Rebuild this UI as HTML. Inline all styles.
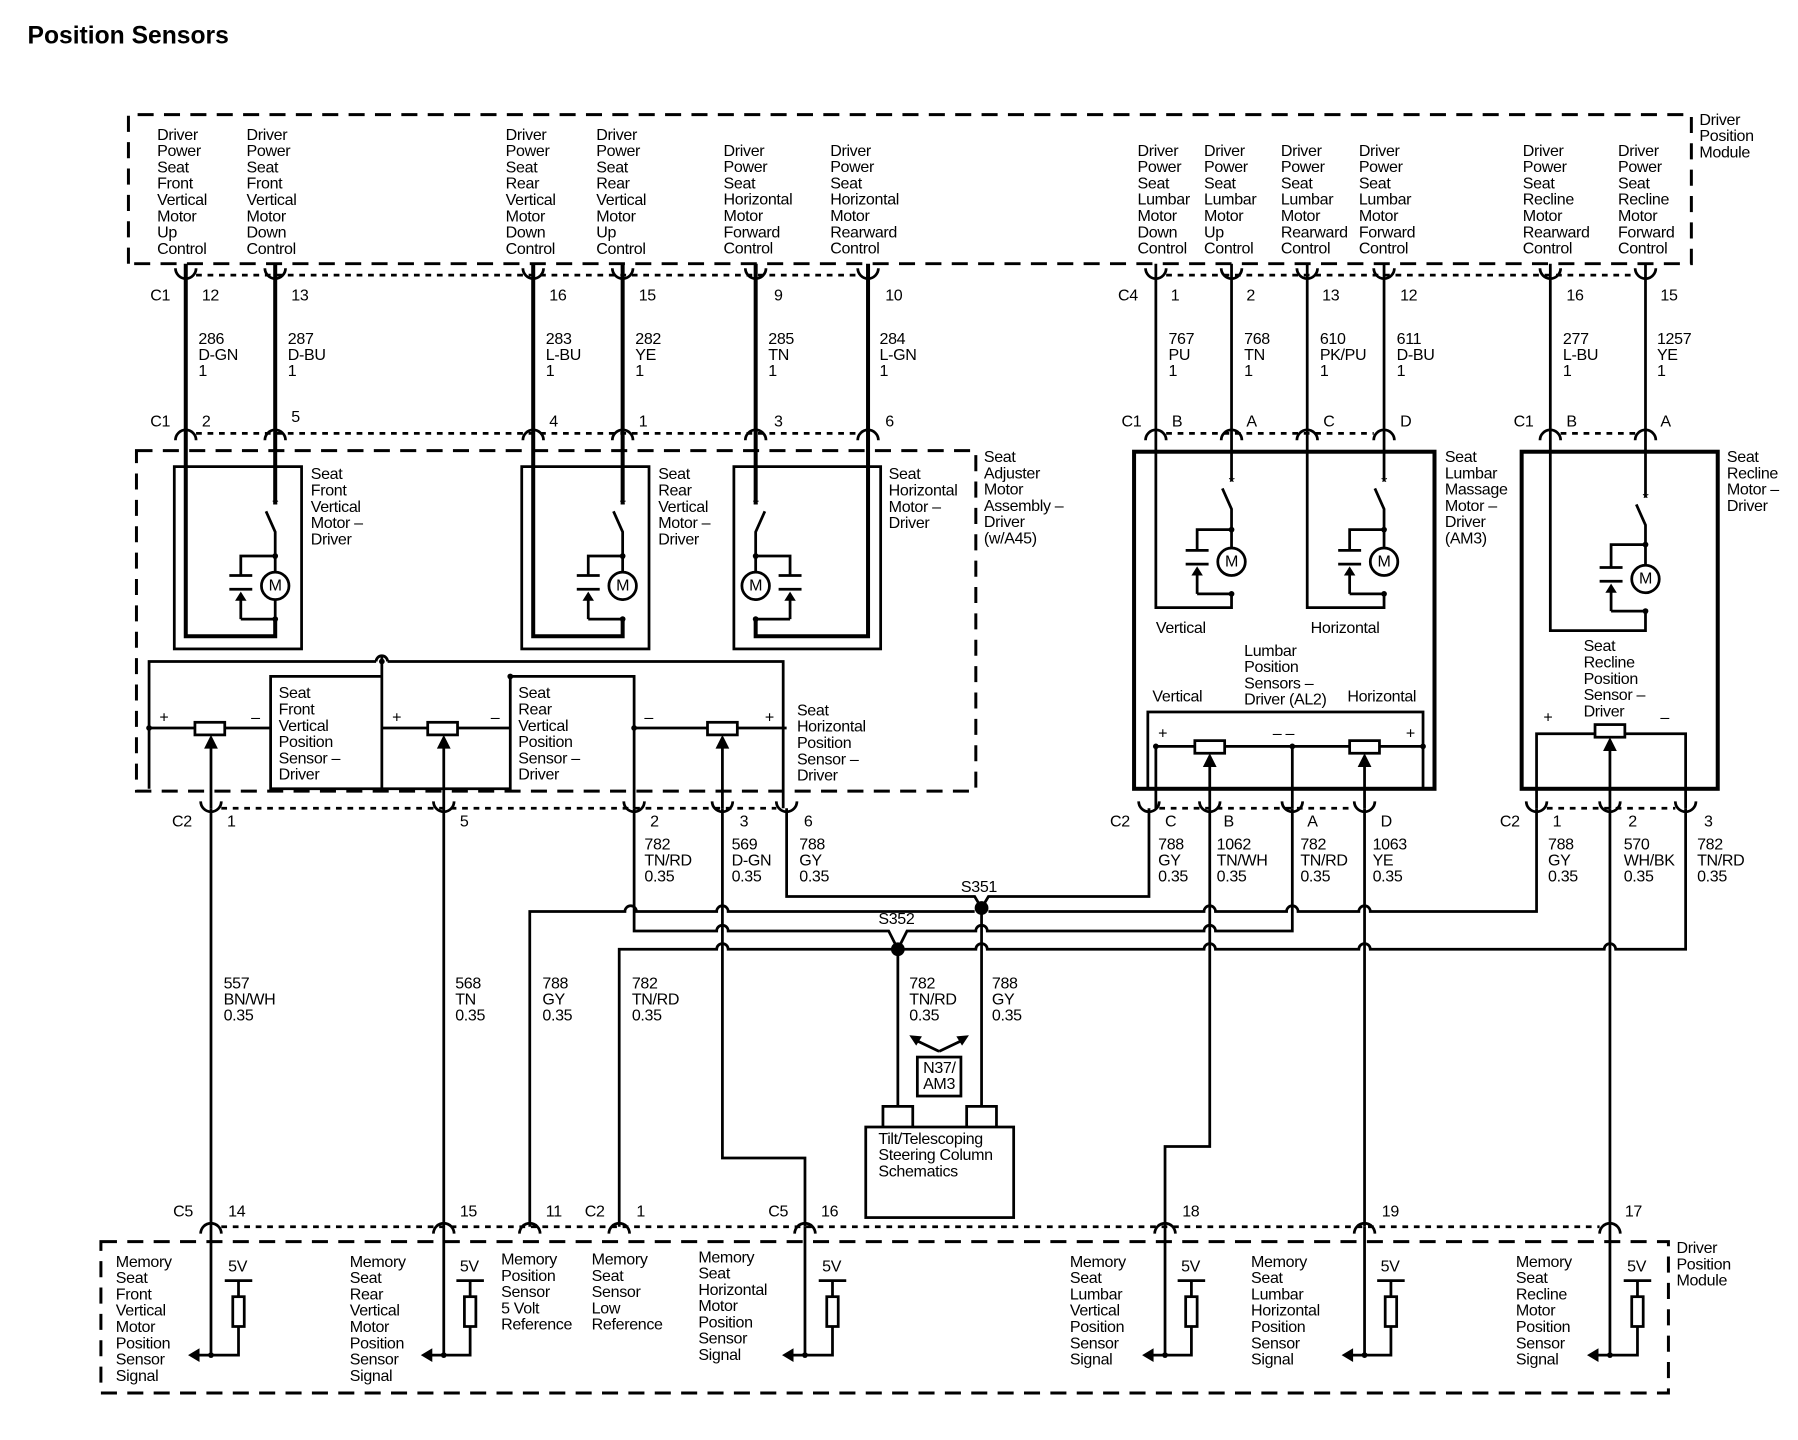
<!DOCTYPE html>
<html><head><meta charset="utf-8"><style>
html,body{margin:0;padding:0;background:#fff;}
svg{display:block;}
text{font-family:"Liberation Sans",Arial,sans-serif;font-size:14px;fill:#000;letter-spacing:-0.3px;}
.t{font-size:21.5px;font-weight:bold;letter-spacing:0;}
.w{stroke:#000;stroke-width:2.4;fill:none;}
.k{stroke:#000;stroke-width:3.5;fill:none;}
.d{stroke:#000;stroke-width:2.6;fill:none;stroke-dasharray:14 9;}
.o{stroke:#000;stroke-width:2.4;fill:none;stroke-dasharray:5 5;}
.b{stroke:#000;stroke-width:2.4;fill:none;}
</style></head><body>
<svg width="1798" height="1440" viewBox="0 0 1568 1256" preserveAspectRatio="none" xmlns="http://www.w3.org/2000/svg">
<text class="t" x="24" y="38">Position Sensors</text>

<path class="d" d="M112 230 V100 H1475 V230 H112"/>
<text x="1482" y="109"><tspan x="1482">Driver</tspan><tspan x="1482" dy="14.2">Position</tspan><tspan x="1482" dy="14.2">Module</tspan></text>
<g>
<text x="137" y="122"><tspan x="137">Driver</tspan><tspan x="137" dy="14.2">Power</tspan><tspan x="137" dy="14.2">Seat</tspan><tspan x="137" dy="14.2">Front</tspan><tspan x="137" dy="14.2">Vertical</tspan><tspan x="137" dy="14.2">Motor</tspan><tspan x="137" dy="14.2">Up</tspan><tspan x="137" dy="14.2">Control</tspan></text>
<text x="215" y="122"><tspan x="215">Driver</tspan><tspan x="215" dy="14.2">Power</tspan><tspan x="215" dy="14.2">Seat</tspan><tspan x="215" dy="14.2">Front</tspan><tspan x="215" dy="14.2">Vertical</tspan><tspan x="215" dy="14.2">Motor</tspan><tspan x="215" dy="14.2">Down</tspan><tspan x="215" dy="14.2">Control</tspan></text>
<text x="441" y="122"><tspan x="441">Driver</tspan><tspan x="441" dy="14.2">Power</tspan><tspan x="441" dy="14.2">Seat</tspan><tspan x="441" dy="14.2">Rear</tspan><tspan x="441" dy="14.2">Vertical</tspan><tspan x="441" dy="14.2">Motor</tspan><tspan x="441" dy="14.2">Down</tspan><tspan x="441" dy="14.2">Control</tspan></text>
<text x="520" y="122"><tspan x="520">Driver</tspan><tspan x="520" dy="14.2">Power</tspan><tspan x="520" dy="14.2">Seat</tspan><tspan x="520" dy="14.2">Rear</tspan><tspan x="520" dy="14.2">Vertical</tspan><tspan x="520" dy="14.2">Motor</tspan><tspan x="520" dy="14.2">Up</tspan><tspan x="520" dy="14.2">Control</tspan></text>
<text x="631" y="136"><tspan x="631">Driver</tspan><tspan x="631" dy="14.2">Power</tspan><tspan x="631" dy="14.2">Seat</tspan><tspan x="631" dy="14.2">Horizontal</tspan><tspan x="631" dy="14.2">Motor</tspan><tspan x="631" dy="14.2">Forward</tspan><tspan x="631" dy="14.2">Control</tspan></text>
<text x="724" y="136"><tspan x="724">Driver</tspan><tspan x="724" dy="14.2">Power</tspan><tspan x="724" dy="14.2">Seat</tspan><tspan x="724" dy="14.2">Horizontal</tspan><tspan x="724" dy="14.2">Motor</tspan><tspan x="724" dy="14.2">Rearward</tspan><tspan x="724" dy="14.2">Control</tspan></text>
<text x="992" y="136"><tspan x="992">Driver</tspan><tspan x="992" dy="14.2">Power</tspan><tspan x="992" dy="14.2">Seat</tspan><tspan x="992" dy="14.2">Lumbar</tspan><tspan x="992" dy="14.2">Motor</tspan><tspan x="992" dy="14.2">Down</tspan><tspan x="992" dy="14.2">Control</tspan></text>
<text x="1050" y="136"><tspan x="1050">Driver</tspan><tspan x="1050" dy="14.2">Power</tspan><tspan x="1050" dy="14.2">Seat</tspan><tspan x="1050" dy="14.2">Lumbar</tspan><tspan x="1050" dy="14.2">Motor</tspan><tspan x="1050" dy="14.2">Up</tspan><tspan x="1050" dy="14.2">Control</tspan></text>
<text x="1117" y="136"><tspan x="1117">Driver</tspan><tspan x="1117" dy="14.2">Power</tspan><tspan x="1117" dy="14.2">Seat</tspan><tspan x="1117" dy="14.2">Lumbar</tspan><tspan x="1117" dy="14.2">Motor</tspan><tspan x="1117" dy="14.2">Rearward</tspan><tspan x="1117" dy="14.2">Control</tspan></text>
<text x="1185" y="136"><tspan x="1185">Driver</tspan><tspan x="1185" dy="14.2">Power</tspan><tspan x="1185" dy="14.2">Seat</tspan><tspan x="1185" dy="14.2">Lumbar</tspan><tspan x="1185" dy="14.2">Motor</tspan><tspan x="1185" dy="14.2">Forward</tspan><tspan x="1185" dy="14.2">Control</tspan></text>
<text x="1328" y="136"><tspan x="1328">Driver</tspan><tspan x="1328" dy="14.2">Power</tspan><tspan x="1328" dy="14.2">Seat</tspan><tspan x="1328" dy="14.2">Recline</tspan><tspan x="1328" dy="14.2">Motor</tspan><tspan x="1328" dy="14.2">Rearward</tspan><tspan x="1328" dy="14.2">Control</tspan></text>
<text x="1411" y="136"><tspan x="1411">Driver</tspan><tspan x="1411" dy="14.2">Power</tspan><tspan x="1411" dy="14.2">Seat</tspan><tspan x="1411" dy="14.2">Recline</tspan><tspan x="1411" dy="14.2">Motor</tspan><tspan x="1411" dy="14.2">Forward</tspan><tspan x="1411" dy="14.2">Control</tspan></text>
</g>

<path class="o" d="M171 240 H748 M1017 240 H1426"/>
<path class="o" d="M171 378 H748 M1017 378 H1198 M1361 378 H1426"/>
<g class="k">
<path d="M162 230 V555 H240 V540"/><path d="M240 230 V440"/>
<path d="M465 230 V555 H543 V540"/><path d="M543 230 V440"/>
<path d="M659 230 V440"/><path d="M757 230 V555 H659 V540"/>
</g>
<g class="w">
<path d="M1008 230 V530 H1074 V518"/><path d="M1074 230 V420"/>
<path d="M1140 230 V530 H1207 V518"/><path d="M1207 230 V420"/>
<path d="M1352 230 V550 H1435 V533"/><path d="M1435 230 V434"/>
</g>
<g class="b" stroke-width="2.4">
<path d="M153 234 A9 9 0 0 0 171 234 M231 234 A9 9 0 0 0 249 234 M456 234 A9 9 0 0 0 474 234 M534 234 A9 9 0 0 0 552 234 M650 234 A9 9 0 0 0 668 234 M748 234 A9 9 0 0 0 766 234"/>
<path d="M999 234 A9 9 0 0 0 1017 234 M1065 234 A9 9 0 0 0 1083 234 M1131 234 A9 9 0 0 0 1149 234 M1198 234 A9 9 0 0 0 1216 234 M1343 234 A9 9 0 0 0 1361 234 M1426 234 A9 9 0 0 0 1444 234"/>
<path d="M153 384 A9 9 0 0 1 171 384 M231 384 A9 9 0 0 1 249 384 M456 384 A9 9 0 0 1 474 384 M534 384 A9 9 0 0 1 552 384 M650 384 A9 9 0 0 1 668 384 M748 384 A9 9 0 0 1 766 384"/>
<path d="M999 384 A9 9 0 0 1 1017 384 M1065 384 A9 9 0 0 1 1083 384 M1131 384 A9 9 0 0 1 1149 384 M1198 384 A9 9 0 0 1 1216 384 M1343 384 A9 9 0 0 1 1361 384 M1426 384 A9 9 0 0 1 1444 384"/>
</g>
<text x="131" y="262">C1</text><text x="176" y="262">12</text><text x="254" y="262">13</text><text x="479" y="262">16</text><text x="557" y="262">15</text><text x="675" y="262">9</text><text x="772" y="262">10</text>
<text x="975" y="262">C4</text><text x="1021" y="262">1</text><text x="1087" y="262">2</text><text x="1153" y="262">13</text><text x="1221" y="262">12</text><text x="1366" y="262">16</text><text x="1448" y="262">15</text>
<text x="131" y="372">C1</text><text x="176" y="372">2</text><text x="254" y="368">5</text><text x="479" y="372">4</text><text x="557" y="372">1</text><text x="675" y="372">3</text><text x="772" y="372">6</text>
<text x="978" y="372">C1</text><text x="1022" y="372">B</text><text x="1087" y="372">A</text><text x="1154" y="372">C</text><text x="1221" y="372">D</text><text x="1320" y="372">C1</text><text x="1366" y="372">B</text><text x="1448" y="372">A</text>
<g>
<text x="173" y="300"><tspan x="173">286</tspan><tspan x="173" dy="14">D-GN</tspan><tspan x="173" dy="14">1</tspan></text>
<text x="251" y="300"><tspan x="251">287</tspan><tspan x="251" dy="14">D-BU</tspan><tspan x="251" dy="14">1</tspan></text>
<text x="476" y="300"><tspan x="476">283</tspan><tspan x="476" dy="14">L-BU</tspan><tspan x="476" dy="14">1</tspan></text>
<text x="554" y="300"><tspan x="554">282</tspan><tspan x="554" dy="14">YE</tspan><tspan x="554" dy="14">1</tspan></text>
<text x="670" y="300"><tspan x="670">285</tspan><tspan x="670" dy="14">TN</tspan><tspan x="670" dy="14">1</tspan></text>
<text x="767" y="300"><tspan x="767">284</tspan><tspan x="767" dy="14">L-GN</tspan><tspan x="767" dy="14">1</tspan></text>
<text x="1019" y="300"><tspan x="1019">767</tspan><tspan x="1019" dy="14">PU</tspan><tspan x="1019" dy="14">1</tspan></text>
<text x="1085" y="300"><tspan x="1085">768</tspan><tspan x="1085" dy="14">TN</tspan><tspan x="1085" dy="14">1</tspan></text>
<text x="1151" y="300"><tspan x="1151">610</tspan><tspan x="1151" dy="14">PK/PU</tspan><tspan x="1151" dy="14">1</tspan></text>
<text x="1218" y="300"><tspan x="1218">611</tspan><tspan x="1218" dy="14">D-BU</tspan><tspan x="1218" dy="14">1</tspan></text>
<text x="1363" y="300"><tspan x="1363">277</tspan><tspan x="1363" dy="14">L-BU</tspan><tspan x="1363" dy="14">1</tspan></text>
<text x="1445" y="300"><tspan x="1445">1257</tspan><tspan x="1445" dy="14">YE</tspan><tspan x="1445" dy="14">1</tspan></text>
</g>

<path class="d" d="M119 393 H851 V690 H119 Z"/>
<text x="858" y="403"><tspan x="858">Seat</tspan><tspan x="858" dy="14.2">Adjuster</tspan><tspan x="858" dy="14.2">Motor</tspan><tspan x="858" dy="14.2">Assembly –</tspan><tspan x="858" dy="14.2">Driver</tspan><tspan x="858" dy="14.2">(w/A45)</tspan></text>
<rect class="b" x="152" y="407" width="111" height="159"/>
<rect class="b" x="455" y="407" width="111" height="159"/>
<rect class="b" x="640" y="407" width="128" height="159"/>
<text x="271" y="418"><tspan x="271">Seat</tspan><tspan x="271" dy="14.2">Front</tspan><tspan x="271" dy="14.2">Vertical</tspan><tspan x="271" dy="14.2">Motor –</tspan><tspan x="271" dy="14.2">Driver</tspan></text>
<text x="574" y="418"><tspan x="574">Seat</tspan><tspan x="574" dy="14.2">Rear</tspan><tspan x="574" dy="14.2">Vertical</tspan><tspan x="574" dy="14.2">Motor –</tspan><tspan x="574" dy="14.2">Driver</tspan></text>
<text x="775" y="418"><tspan x="775">Seat</tspan><tspan x="775" dy="14.2">Horizontal</tspan><tspan x="775" dy="14.2">Motor –</tspan><tspan x="775" dy="14.2">Driver</tspan></text>
<g class="w">
<path d="M232 446 L240 464 V524 M240 498 V540 M240 485 H210 V502 M200 502 H220 M200 514 H220 M210 540 V518 M210 540 H240"/>
<path d="M535 446 L543 464 V524 M543 485 H513 V502 M503 502 H523 M503 514 H523 M513 540 V518 M513 540 H543"/>
<path d="M667 446 L659 464 V524 M659 485 H689 V502 M679 502 H699 M679 514 H699 M689 540 V518 M689 540 H659"/>
<path d="M1066 426 L1074 444 V478 M1074 462 H1044 V480 M1034 480 H1054 M1034 492 H1054 M1044 518 V496 M1044 518 H1074"/>
<path d="M1199 426 L1207 444 V478 M1207 462 H1177 V480 M1167 480 H1187 M1167 492 H1187 M1177 518 V496 M1177 518 H1207"/>
<path d="M1427 440 L1435 458 V493 M1435 475 H1405 V495 M1395 495 H1415 M1395 507 H1415 M1405 533 V511 M1405 533 H1435"/>
</g>
<g fill="#000">
<path d="M210 516 l-5 8 h10 z M513 516 l-5 8 h10 z M689 516 l-5 8 h10 z M1044 494 l-5 8 h10 z M1177 494 l-5 8 h10 z M1405 509 l-5 8 h10 z"/>
<circle cx="240" cy="485" r="2.5"/><circle cx="240" cy="540" r="2.5"/><circle cx="543" cy="485" r="2.5"/><circle cx="543" cy="540" r="2.5"/><circle cx="659" cy="485" r="2.5"/><circle cx="659" cy="540" r="2.5"/>
<circle cx="1074" cy="462" r="2.5"/><circle cx="1074" cy="518" r="2.5"/><circle cx="1207" cy="462" r="2.5"/><circle cx="1207" cy="518" r="2.5"/><circle cx="1435" cy="475" r="2.5"/><circle cx="1435" cy="533" r="2.5"/>
</g>
<g fill="#fff" stroke="#000" stroke-width="2.4">
<circle cx="240" cy="511" r="12"/><circle cx="543" cy="511" r="12"/><circle cx="659" cy="511" r="12"/>
<circle cx="1074" cy="490" r="12"/><circle cx="1207" cy="490" r="12"/><circle cx="1435" cy="505" r="12"/>
</g>
<g font-size="12" text-anchor="middle">
<text x="240" y="515">M</text><text x="543" y="515">M</text><text x="659" y="515">M</text><text x="1074" y="494">M</text><text x="1207" y="494">M</text><text x="1435" y="509">M</text>
</g>
<g font-size="13" text-anchor="middle">
<text x="240" y="445">*</text><text x="543" y="445">*</text><text x="659" y="445">*</text><text x="1074" y="425">*</text><text x="1207" y="425">*</text><text x="1435" y="439">*</text>
</g>

<g class="w">
<path d="M130 688 V577 H328 M338 577 H683 V705"/>
<path d="M328 577 A5 5 0 0 1 338 577" />
<path d="M333 572 V688 H236 V590 H333"/>
<path d="M445 590 H553 V705 M445 590 V688 H333"/>
<path d="M130 635 H170 M196 635 H236 M333 635 H373 M399 635 H445 M553 635 H617 M643 635 H686"/>
<path d="M184 705 V650 M387 705 V650 M630 705 V650"/>
</g>
<g fill="#fff" stroke="#000" stroke-width="2.4"><rect x="170" y="630" width="26" height="11"/><rect x="373" y="630" width="26" height="11"/><rect x="617" y="630" width="26" height="11"/></g>
<g fill="#000"><path d="M184 641 l-6 12 h12z M387 641 l-6 12 h12z M630 641 l-6 12 h12z"/><circle cx="333" cy="577" r="2.5"/><circle cx="445" cy="590" r="2.5"/><circle cx="553" cy="635" r="2.5"/><circle cx="130" cy="635" r="2.5"/></g>
<g font-size="12"><text x="139" y="630">+</text><text x="219" y="630">–</text><text x="342" y="630">+</text><text x="428" y="630">–</text><text x="562" y="630">–</text><text x="667" y="630">+</text></g>
<text x="243" y="609"><tspan x="243">Seat</tspan><tspan x="243" dy="14.2">Front</tspan><tspan x="243" dy="14.2">Vertical</tspan><tspan x="243" dy="14.2">Position</tspan><tspan x="243" dy="14.2">Sensor –</tspan><tspan x="243" dy="14.2">Driver</tspan></text>
<text x="452" y="609"><tspan x="452">Seat</tspan><tspan x="452" dy="14.2">Rear</tspan><tspan x="452" dy="14.2">Vertical</tspan><tspan x="452" dy="14.2">Position</tspan><tspan x="452" dy="14.2">Sensor –</tspan><tspan x="452" dy="14.2">Driver</tspan></text>
<text x="695" y="624"><tspan x="695">Seat</tspan><tspan x="695" dy="14.2">Horizontal</tspan><tspan x="695" dy="14.2">Position</tspan><tspan x="695" dy="14.2">Sensor –</tspan><tspan x="695" dy="14.2">Driver</tspan></text>

<rect class="k" x="989" y="394" width="262" height="294" stroke-width="3"/>
<text x="1260" y="403"><tspan x="1260">Seat</tspan><tspan x="1260" dy="14.2">Lumbar</tspan><tspan x="1260" dy="14.2">Massage</tspan><tspan x="1260" dy="14.2">Motor –</tspan><tspan x="1260" dy="14.2">Driver</tspan><tspan x="1260" dy="14.2">(AM3)</tspan></text>
<text x="1008" y="552">Vertical</text><text x="1143" y="552">Horizontal</text>
<text x="1085" y="572"><tspan x="1085">Lumbar</tspan><tspan x="1085" dy="14.2">Position</tspan><tspan x="1085" dy="14.2">Sensors –</tspan><tspan x="1085" dy="14.2">Driver (AL2)</tspan></text>
<text x="1005" y="612">Vertical</text><text x="1175" y="612">Horizontal</text>
<rect class="b" x="1001" y="621" width="240" height="67"/>
<g class="w"><path d="M1008 651 H1042 M1068 651 H1177 M1203 651 H1241 M1127 651 V705 M1008 651 V705 M1055 705 V664 M1190 705 V664"/></g>
<g fill="#fff" stroke="#000" stroke-width="2.4"><rect x="1042" y="646" width="26" height="11"/><rect x="1177" y="646" width="26" height="11"/></g>
<g fill="#000"><path d="M1055 657 l-6 12 h12z M1190 657 l-6 12 h12z"/><circle cx="1127" cy="651" r="2.5"/><circle cx="1008" cy="651" r="2.5"/><circle cx="1241" cy="651" r="2.5"/></g>
<g font-size="12"><text x="1010" y="644">+</text><text x="1110" y="644">– –</text><text x="1226" y="644">+</text></g>

<rect class="k" x="1327" y="394" width="171" height="294" stroke-width="3"/>
<text x="1506" y="403"><tspan x="1506">Seat</tspan><tspan x="1506" dy="14.2">Recline</tspan><tspan x="1506" dy="14.2">Motor –</tspan><tspan x="1506" dy="14.2">Driver</tspan></text>
<text x="1381" y="568"><tspan x="1381">Seat</tspan><tspan x="1381" dy="14.2">Recline</tspan><tspan x="1381" dy="14.2">Position</tspan><tspan x="1381" dy="14.2">Sensor –</tspan><tspan x="1381" dy="14.2">Driver</tspan></text>
<g class="w"><path d="M1340 705 V640 H1391 M1417 640 H1470 V705 M1404 705 V650"/></g>
<rect x="1391" y="632" width="26" height="11" fill="#fff" stroke="#000" stroke-width="2.4"/>
<path d="M1404 643 l-6 12 h12z" fill="#000"/>
<g font-size="12"><text x="1346" y="630">+</text><text x="1448" y="630">–</text></g>

<path class="o" d="M193 705 H677 M1011 705 H1181 M1349 705 H1461"/>
<g class="b">
<path d="M175 699 A9 9 0 0 0 193 699 M378 699 A9 9 0 0 0 396 699 M544 699 A9 9 0 0 0 562 699 M621 699 A9 9 0 0 0 639 699 M677 699 A9 9 0 0 0 695 699"/>
<path d="M993 699 A9 9 0 0 0 1011 699 M1046 699 A9 9 0 0 0 1064 699 M1118 699 A9 9 0 0 0 1136 699 M1181 699 A9 9 0 0 0 1199 699 M1331 699 A9 9 0 0 0 1349 699 M1395 699 A9 9 0 0 0 1413 699 M1461 699 A9 9 0 0 0 1479 699"/>
</g>
<text x="150" y="721">C2</text><text x="198" y="721">1</text><text x="401" y="721">5</text><text x="567" y="721">2</text><text x="645" y="721">3</text><text x="701" y="721">6</text>
<text x="968" y="721">C2</text><text x="1016" y="721">C</text><text x="1067" y="721">B</text><text x="1140" y="721">A</text><text x="1204" y="721">D</text>
<text x="1308" y="721">C2</text><text x="1354" y="721">1</text><text x="1420" y="721">2</text><text x="1486" y="721">3</text>
<g>
<text x="562" y="741"><tspan x="562">782</tspan><tspan x="562" dy="14">TN/RD</tspan><tspan x="562" dy="14">0.35</tspan></text>
<text x="638" y="741"><tspan x="638">569</tspan><tspan x="638" dy="14">D-GN</tspan><tspan x="638" dy="14">0.35</tspan></text>
<text x="697" y="741"><tspan x="697">788</tspan><tspan x="697" dy="14">GY</tspan><tspan x="697" dy="14">0.35</tspan></text>
<text x="1010" y="741"><tspan x="1010">788</tspan><tspan x="1010" dy="14">GY</tspan><tspan x="1010" dy="14">0.35</tspan></text>
<text x="1061" y="741"><tspan x="1061">1062</tspan><tspan x="1061" dy="14">TN/WH</tspan><tspan x="1061" dy="14">0.35</tspan></text>
<text x="1134" y="741"><tspan x="1134">782</tspan><tspan x="1134" dy="14">TN/RD</tspan><tspan x="1134" dy="14">0.35</tspan></text>
<text x="1197" y="741"><tspan x="1197">1063</tspan><tspan x="1197" dy="14">YE</tspan><tspan x="1197" dy="14">0.35</tspan></text>
<text x="1350" y="741"><tspan x="1350">788</tspan><tspan x="1350" dy="14">GY</tspan><tspan x="1350" dy="14">0.35</tspan></text>
<text x="1416" y="741"><tspan x="1416">570</tspan><tspan x="1416" dy="14">WH/BK</tspan><tspan x="1416" dy="14">0.35</tspan></text>
<text x="1480" y="741"><tspan x="1480">782</tspan><tspan x="1480" dy="14">TN/RD</tspan><tspan x="1480" dy="14">0.35</tspan></text>
<text x="195" y="862"><tspan x="195">557</tspan><tspan x="195" dy="14">BN/WH</tspan><tspan x="195" dy="14">0.35</tspan></text>
<text x="397" y="862"><tspan x="397">568</tspan><tspan x="397" dy="14">TN</tspan><tspan x="397" dy="14">0.35</tspan></text>
<text x="473" y="862"><tspan x="473">788</tspan><tspan x="473" dy="14">GY</tspan><tspan x="473" dy="14">0.35</tspan></text>
<text x="551" y="862"><tspan x="551">782</tspan><tspan x="551" dy="14">TN/RD</tspan><tspan x="551" dy="14">0.35</tspan></text>
<text x="793" y="862"><tspan x="793">782</tspan><tspan x="793" dy="14">TN/RD</tspan><tspan x="793" dy="14">0.35</tspan></text>
<text x="865" y="862"><tspan x="865">788</tspan><tspan x="865" dy="14">GY</tspan><tspan x="865" dy="14">0.35</tspan></text>
</g>
<text x="838" y="778">S351</text><text x="766" y="806">S352</text>

<g class="w">
<path d="M184 705 V1182"/><path d="M387 705 V1182"/>
<path d="M702 1070 V1182"/><path d="M1016 1070 V1182"/><path d="M1190 1070 V1182"/><path d="M1404 705 V1182"/>
<path d="M686 705 V782 H850 L856 792 L862 782 H1002 V705"/>
<path d="M462 1070 V795 H545 a5 5 0 0 1 10 0 H625 a5 5 0 0 1 10 0 H850 M862 795 H1050 a5 5 0 0 1 10 0 H1122 a5 5 0 0 1 10 0 H1185 a5 5 0 0 1 10 0 H1340 V705"/>
<path d="M553 705 V812 H625 a5 5 0 0 1 10 0 H775 L783 828 L791 812 H851 a5 5 0 0 1 10 0 H1050 a5 5 0 0 1 10 0 H1127 V705"/>
<path d="M540 1070 V828 H625 a5 5 0 0 1 10 0 H783 M783 828 H851 a5 5 0 0 1 10 0 H1050 a5 5 0 0 1 10 0 H1185 a5 5 0 0 1 10 0 H1399 a5 5 0 0 1 10 0 H1470 V705"/>
<path d="M630 705 V1010 H702 V1070"/>
<path d="M856 792 V965"/><path d="M783 828 V965"/>
<path d="M1055 705 V1000 H1016 V1070"/><path d="M1190 705 V1070"/>
<path d="M770 983 V965 H796 V983 M843 983 V965 H869 V983"/>
</g>
<g fill="#000"><circle cx="856" cy="792" r="6"/><circle cx="783" cy="828" r="6"/></g>
<rect class="b" x="755" y="983" width="129" height="79"/>
<text x="766" y="998"><tspan x="766">Tilt/Telescoping</tspan><tspan x="766" dy="14">Steering Column</tspan><tspan x="766" dy="14">Schematics</tspan></text>
<rect class="b" x="800" y="922" width="38" height="34"/>
<text x="805" y="936" font-size="13"><tspan x="805">N37/</tspan><tspan x="805" dy="14">AM3</tspan></text>
<g class="w"><path d="M819 917 L798 907 M819 917 L840 907"/></g>
<g fill="#000"><path d="M793 903 l11 1 -5 8z M845 903 l-11 1 5 8z"/></g>

<path class="o" d="M193 1070 H1395"/>
<g class="b">
<path d="M175 1076 A9 9 0 0 1 193 1076 M378 1076 A9 9 0 0 1 396 1076 M453 1076 A9 9 0 0 1 471 1076 M531 1076 A9 9 0 0 1 549 1076 M693 1076 A9 9 0 0 1 711 1076 M1007 1076 A9 9 0 0 1 1025 1076 M1181 1076 A9 9 0 0 1 1199 1076 M1395 1076 A9 9 0 0 1 1413 1076"/>
</g>
<text x="151" y="1061">C5</text><text x="199" y="1061">14</text><text x="401" y="1061">15</text><text x="476" y="1061">11</text><text x="510" y="1061">C2</text><text x="555" y="1061">1</text><text x="670" y="1061">C5</text><text x="716" y="1061">16</text><text x="1031" y="1061">18</text><text x="1205" y="1061">19</text><text x="1417" y="1061">17</text>

<path class="d" d="M88 1083 H1455 V1215 H88 Z"/>
<text x="1462" y="1093"><tspan x="1462">Driver</tspan><tspan x="1462" dy="14.2">Position</tspan><tspan x="1462" dy="14.2">Module</tspan></text>
<g>
<text x="101" y="1105"><tspan x="101">Memory</tspan><tspan x="101" dy="14.2">Seat</tspan><tspan x="101" dy="14.2">Front</tspan><tspan x="101" dy="14.2">Vertical</tspan><tspan x="101" dy="14.2">Motor</tspan><tspan x="101" dy="14.2">Position</tspan><tspan x="101" dy="14.2">Sensor</tspan><tspan x="101" dy="14.2">Signal</tspan></text>
<text x="305" y="1105"><tspan x="305">Memory</tspan><tspan x="305" dy="14.2">Seat</tspan><tspan x="305" dy="14.2">Rear</tspan><tspan x="305" dy="14.2">Vertical</tspan><tspan x="305" dy="14.2">Motor</tspan><tspan x="305" dy="14.2">Position</tspan><tspan x="305" dy="14.2">Sensor</tspan><tspan x="305" dy="14.2">Signal</tspan></text>
<text x="437" y="1103"><tspan x="437">Memory</tspan><tspan x="437" dy="14.2">Position</tspan><tspan x="437" dy="14.2">Sensor</tspan><tspan x="437" dy="14.2">5 Volt</tspan><tspan x="437" dy="14.2">Reference</tspan></text>
<text x="516" y="1103"><tspan x="516">Memory</tspan><tspan x="516" dy="14.2">Seat</tspan><tspan x="516" dy="14.2">Sensor</tspan><tspan x="516" dy="14.2">Low</tspan><tspan x="516" dy="14.2">Reference</tspan></text>
<text x="609" y="1101"><tspan x="609">Memory</tspan><tspan x="609" dy="14.2">Seat</tspan><tspan x="609" dy="14.2">Horizontal</tspan><tspan x="609" dy="14.2">Motor</tspan><tspan x="609" dy="14.2">Position</tspan><tspan x="609" dy="14.2">Sensor</tspan><tspan x="609" dy="14.2">Signal</tspan></text>
<text x="933" y="1105"><tspan x="933">Memory</tspan><tspan x="933" dy="14.2">Seat</tspan><tspan x="933" dy="14.2">Lumbar</tspan><tspan x="933" dy="14.2">Vertical</tspan><tspan x="933" dy="14.2">Position</tspan><tspan x="933" dy="14.2">Sensor</tspan><tspan x="933" dy="14.2">Signal</tspan></text>
<text x="1091" y="1105"><tspan x="1091">Memory</tspan><tspan x="1091" dy="14.2">Seat</tspan><tspan x="1091" dy="14.2">Lumbar</tspan><tspan x="1091" dy="14.2">Horizontal</tspan><tspan x="1091" dy="14.2">Position</tspan><tspan x="1091" dy="14.2">Sensor</tspan><tspan x="1091" dy="14.2">Signal</tspan></text>
<text x="1322" y="1105"><tspan x="1322">Memory</tspan><tspan x="1322" dy="14.2">Seat</tspan><tspan x="1322" dy="14.2">Recline</tspan><tspan x="1322" dy="14.2">Motor</tspan><tspan x="1322" dy="14.2">Position</tspan><tspan x="1322" dy="14.2">Sensor</tspan><tspan x="1322" dy="14.2">Signal</tspan></text>
</g>
<g class="w">
<path d="M196 1117 H220 M208 1117 V1131 M208 1157 V1182 H172"/>
<path d="M398 1117 H422 M410 1117 V1131 M410 1157 V1182 H375"/>
<path d="M714 1117 H738 M726 1117 V1131 M726 1157 V1182 H690"/>
<path d="M1027 1117 H1051 M1039 1117 V1131 M1039 1157 V1182 H1004"/>
<path d="M1201 1117 H1225 M1213 1117 V1131 M1213 1157 V1182 H1178"/>
<path d="M1416 1117 H1440 M1428 1117 V1131 M1428 1157 V1182 H1392"/>
</g>
<g fill="#fff" stroke="#000" stroke-width="2.4">
<rect x="203" y="1131" width="10" height="26"/><rect x="405" y="1131" width="10" height="26"/><rect x="721" y="1131" width="10" height="26"/><rect x="1034" y="1131" width="10" height="26"/><rect x="1208" y="1131" width="10" height="26"/><rect x="1423" y="1131" width="10" height="26"/>
</g>
<g fill="#000">
<path d="M164 1182 l10 -6 v12z M367 1182 l10 -6 v12z M682 1182 l10 -6 v12z M996 1182 l10 -6 v12z M1170 1182 l10 -6 v12z M1384 1182 l10 -6 v12z"/>
<circle cx="184" cy="1182" r="2.5"/><circle cx="387" cy="1182" r="2.5"/><circle cx="702" cy="1182" r="2.5"/><circle cx="1016" cy="1182" r="2.5"/><circle cx="1190" cy="1182" r="2.5"/><circle cx="1404" cy="1182" r="2.5"/>
</g>
<text x="199" y="1109">5V</text><text x="401" y="1109">5V</text><text x="717" y="1109">5V</text><text x="1030" y="1109">5V</text><text x="1204" y="1109">5V</text><text x="1419" y="1109">5V</text>
</svg>
</body></html>
